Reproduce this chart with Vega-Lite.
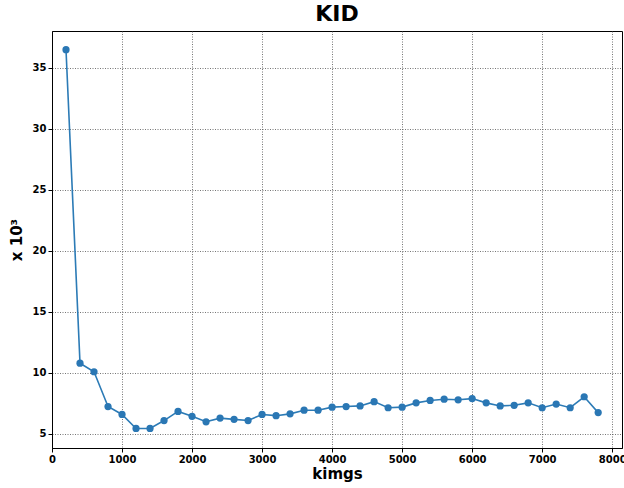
{
  "$schema": "https://vega.github.io/schema/vega-lite/v6.json",
  "autosize": "none",
  "padding": {"left": 52, "top": 31, "right": 2, "bottom": 40},
  "width": 570,
  "height": 417,
  "background": "white",
  "title": {"text": "KID", "fontSize": 22, "fontWeight": "bold", "font": "DejaVu Sans", "color": "black", "anchor": "middle", "offset": 5},
  "config": {
    "view": {"stroke": "black", "strokeWidth": 1},
    "axis": {"labelFont": "DejaVu Sans", "labelFontSize": 10, "labelFontWeight": "bold", "labelColor": "black", "titleFont": "DejaVu Sans", "titleFontSize": 15, "titleFontWeight": "bold", "titleColor": "black", "gridColor": "#555555", "gridDash": [1, 1.5], "gridOpacity": 0.9, "gridWidth": 0.9, "tickColor": "black", "domainColor": "black", "tickSize": 4}
  },
  "data": {"values": [
    {"kimg": 200, "kid": 36.5},
    {"kimg": 400, "kid": 10.8},
    {"kimg": 600, "kid": 10.1},
    {"kimg": 800, "kid": 7.25},
    {"kimg": 1000, "kid": 6.6},
    {"kimg": 1200, "kid": 5.45},
    {"kimg": 1400, "kid": 5.45},
    {"kimg": 1600, "kid": 6.1},
    {"kimg": 1800, "kid": 6.85},
    {"kimg": 2000, "kid": 6.45},
    {"kimg": 2200, "kid": 6.0},
    {"kimg": 2400, "kid": 6.3},
    {"kimg": 2600, "kid": 6.2},
    {"kimg": 2800, "kid": 6.1},
    {"kimg": 3000, "kid": 6.6},
    {"kimg": 3200, "kid": 6.5},
    {"kimg": 3400, "kid": 6.65},
    {"kimg": 3600, "kid": 6.95},
    {"kimg": 3800, "kid": 6.95},
    {"kimg": 4000, "kid": 7.2},
    {"kimg": 4200, "kid": 7.25},
    {"kimg": 4400, "kid": 7.3},
    {"kimg": 4600, "kid": 7.65},
    {"kimg": 4800, "kid": 7.15},
    {"kimg": 5000, "kid": 7.2},
    {"kimg": 5200, "kid": 7.55},
    {"kimg": 5400, "kid": 7.75},
    {"kimg": 5600, "kid": 7.85},
    {"kimg": 5800, "kid": 7.8},
    {"kimg": 6000, "kid": 7.9},
    {"kimg": 6200, "kid": 7.55},
    {"kimg": 6400, "kid": 7.3},
    {"kimg": 6600, "kid": 7.35},
    {"kimg": 6800, "kid": 7.55},
    {"kimg": 7000, "kid": 7.15},
    {"kimg": 7200, "kid": 7.45},
    {"kimg": 7400, "kid": 7.15},
    {"kimg": 7600, "kid": 8.05},
    {"kimg": 7800, "kid": 6.75}
  ]},
  "mark": {"type": "line", "color": "#2c7bb6", "strokeWidth": 1.6, "point": {"filled": true, "size": 52, "color": "#2a77b4", "opacity": 1}},
  "encoding": {
    "x": {"field": "kimg", "type": "quantitative", "title": "kimgs", "scale": {"domain": [0, 8140], "nice": false, "zero": false}, "axis": {"values": [0, 1000, 2000, 3000, 4000, 5000, 6000, 7000, 8000], "format": "d", "titlePadding": 2, "labelFlush": false}},
    "y": {"field": "kid", "type": "quantitative", "title": "x 10³", "scale": {"domain": [3.85, 38.03], "nice": false, "zero": false}, "axis": {"values": [5, 10, 15, 20, 25, 30, 35], "titlePadding": 8, "labelFlush": false}}
  }
}
